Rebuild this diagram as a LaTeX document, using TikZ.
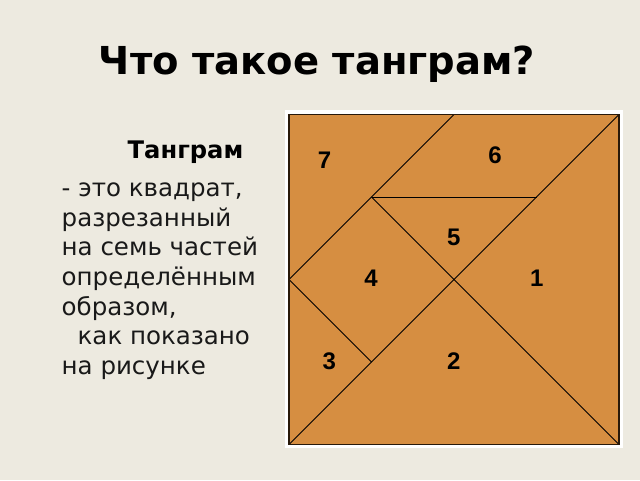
\documentclass[tikz,border=0pt]{standalone}
\usepackage{fontspec}
\setmainfont{DejaVu Sans}
\newfontfamily\titlefont{DejaVu Sans}
\newfontfamily\digitfont{Liberation Sans}
\definecolor{bgcol}{RGB}{237,234,224}
\definecolor{piece}{RGB}{214,142,65}
\definecolor{edge}{RGB}{40,25,10}
\begin{document}
\begin{tikzpicture}[x=1pt,y=-1pt,
  body/.style={anchor=base west,inner sep=0pt,font=\fontsize{24.5}{29}\selectfont,text=black!90},
  digit/.style={inner sep=0pt,font=\digitfont\bfseries\fontsize{24}{28}\selectfont},
  cut/.style={draw=black,line width=0.9pt}]
\fill[bgcol] (0,0) rectangle (640,480);
\useasboundingbox (0,0) rectangle (640,480);
% title
\node[anchor=base,inner sep=0pt,font=\titlefont\bfseries\fontsize{38.5}{44}\selectfont] (title) at (317,74) {Что такое танграм?};
% left text
\node[anchor=base west,inner sep=0pt,font=\bfseries\fontsize{24.2}{28}\selectfont] (head) at (127.5,158.5) {Танграм};
\node[body] (l1) at (61.5,196.5) {- это квадрат,};
\node[body] (l2) at (61.5,226.1) {разрезанный};
\node[body] (l3) at (61.5,255.8) {на семь частей};
\node[body] (l4) at (61.5,285.4) {определённым};
\node[body] (l5) at (61.5,315.0) {образом,};
\node[body] (l6) at (61.5,344.7) {\hspace*{16pt}как показано};
\node[body] (l7) at (61.5,374.3) {на рисунке};
% frame and square
\fill[white] (285,110) rectangle (623,448);
\begin{scope}[shift={(289,114.5)}]
\fill[piece] (0,0) rectangle (330,330);
\coordinate (TL) at (0,0);
\coordinate (TR) at (330,0);
\coordinate (BL) at (0,330);
\coordinate (BR) at (330,330);
\coordinate (C) at (165,165);
\coordinate (TM) at (165,0);
\coordinate (LM) at (0,165);
\coordinate (P) at (82.5,82.5);
\coordinate (Q) at (247.5,82.5);
\coordinate (R) at (82.5,247.5);
\draw[cut] (BL) -- (TR);
\draw[cut] (C) -- (BR);
\draw[cut] (TM) -- (LM);
\draw[cut] (P) -- (Q);
\draw[cut] (P) -- (C);
\draw[cut] (LM) -- (R);
\draw[draw=edge,line width=1.2pt] (TL) rectangle (BR);
\end{scope}
% digits
\node[digit] (n7) at (324.5,160) {7};
\node[digit] (n6) at (495,155) {6};
\node[digit] (n5) at (453.7,237) {5};
\node[digit] (n4) at (371,278.5) {4};
\node[digit] (n1) at (536.7,278) {1};
\node[digit] (n3) at (329.3,361) {3};
\node[digit] (n2) at (453.7,361) {2};
\end{tikzpicture}
\end{document}
